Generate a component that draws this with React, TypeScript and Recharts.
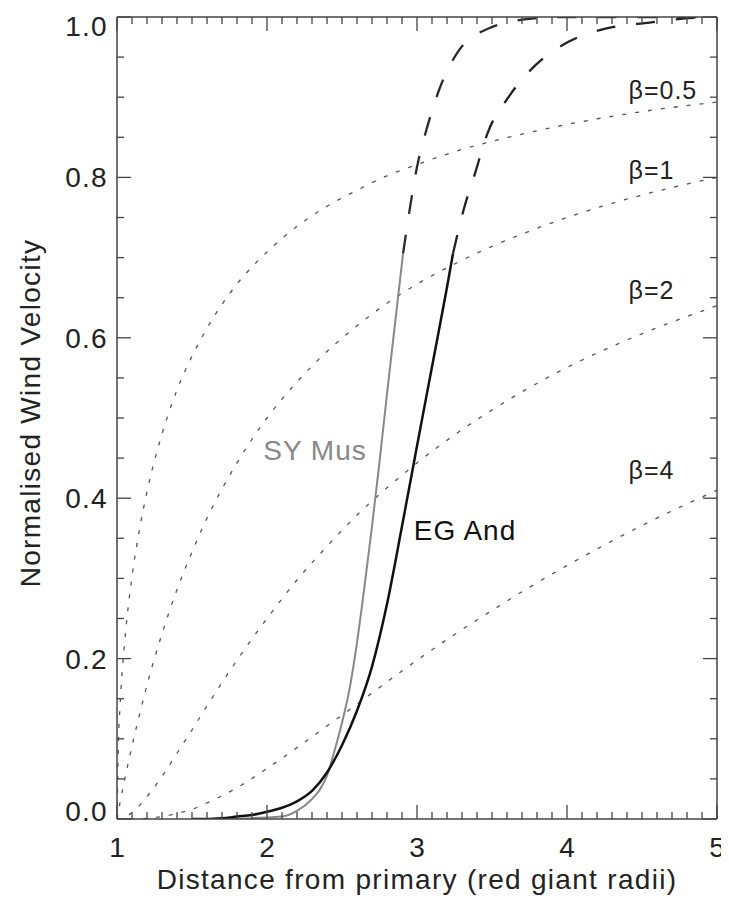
import React from "react";
import { LineChart, Line, XAxis, YAxis, ReferenceDot } from "recharts";

// beta-law curves on a common radius grid
const rGrid = [1.0, 1.01, 1.02, 1.05, 1.1, 1.15, 1.2, 1.3, 1.4, 1.5, 1.6, 1.8, 2.0, 2.2, 2.4, 2.6, 2.8, 3.0, 3.25, 3.5, 3.75, 4.0, 4.5, 5.0];
const beta05 = [0, 0.099, 0.14, 0.218, 0.302, 0.361, 0.408, 0.48, 0.535, 0.577, 0.612, 0.667, 0.707, 0.739, 0.764, 0.784, 0.802, 0.816, 0.832, 0.845, 0.856, 0.866, 0.882, 0.894];
const beta1 = [0, 0.01, 0.02, 0.048, 0.091, 0.13, 0.167, 0.231, 0.286, 0.333, 0.375, 0.444, 0.5, 0.545, 0.583, 0.615, 0.643, 0.667, 0.692, 0.714, 0.733, 0.75, 0.778, 0.8];
const beta2 = [0, 0, 0, 0.002, 0.008, 0.017, 0.028, 0.053, 0.082, 0.111, 0.141, 0.198, 0.25, 0.298, 0.34, 0.379, 0.413, 0.444, 0.479, 0.51, 0.538, 0.563, 0.605, 0.64];
const beta4 = [0, 0, 0, 0, 0, 0, 0.001, 0.003, 0.007, 0.012, 0.02, 0.039, 0.063, 0.089, 0.116, 0.143, 0.171, 0.198, 0.23, 0.26, 0.289, 0.316, 0.366, 0.41];

// SY Mus: measured part (solid) and extrapolation (dashed)
const syMusR = [1.6, 1.8, 1.9, 2.0, 2.1, 2.2, 2.3, 2.35, 2.4, 2.45, 2.5, 2.55, 2.6, 2.65, 2.7, 2.75, 2.8, 2.85, 2.907];
const syMusV = [0, 0, 0.001, 0.002, 0.003, 0.01, 0.025, 0.036, 0.054, 0.085, 0.12, 0.162, 0.22, 0.29, 0.365, 0.445, 0.53, 0.612, 0.705];
const syMusExtR = [2.907, 2.953, 3.0, 3.067, 3.147, 3.267, 3.48, 3.767, 4.0, 5.0];
const syMusExtV = [0.705, 0.762, 0.813, 0.862, 0.909, 0.955, 0.986, 0.998, 1.0, 1.0];

// EG And
const egAndR = [1.5, 1.6, 1.7, 1.8, 1.9, 2.0, 2.1, 2.2, 2.3, 2.4, 2.5, 2.6, 2.7, 2.8, 2.9, 3.0, 3.1, 3.2, 3.24];
const egAndV = [0, 0, 0.001, 0.003, 0.005, 0.009, 0.014, 0.022, 0.035, 0.058, 0.092, 0.135, 0.19, 0.268, 0.365, 0.465, 0.564, 0.663, 0.705];
const egAndExtR = [3.24, 3.31, 3.39, 3.47, 3.61, 3.79, 4.01, 4.27, 4.55, 4.84, 5.0];
const egAndExtV = [0.705, 0.759, 0.807, 0.855, 0.9, 0.94, 0.969, 0.986, 0.993, 0.999, 1.0];

const xMajor = [1, 2, 3, 4, 5];
const yMajor = [0, 0.2, 0.4, 0.6, 0.8, 1.0];
const betaLabels = ["β=0.5", "β=1", "β=2", "β=4"];

const FONT = "'Liberation Sans', Arial, Helvetica, sans-serif";
const AXIS = "#444";

// the chart fills the window exactly; drop the bottom body margin so no scrollbar appears
if (typeof document !== "undefined") {
  document.body.style.marginBottom = "0";
  document.body.style.overflow = "hidden";
}

const zip = (rs: number[], vs: number[]) => rs.map((r, i) => ({ r, v: vs[i] }));

// minor ticks between majors
const xTicks: number[] = [];
for (let i = 0; i <= 40; i++) xTicks.push(+(1 + i * 0.1).toFixed(2));
const yTicks: number[] = [];
for (let i = 0; i <= 20; i++) yTicks.push(+(i * 0.05).toFixed(2));

const isMajor = (v: number, list: number[]) => list.some((m) => Math.abs(m - v) < 1e-6);

function BottomTick(props: any) {
  const { x, y, payload } = props;
  const major = isMajor(payload.value, xMajor);
  return (
    <g>
      <line x1={x} x2={x} y1={y} y2={y - (major ? 14 : 7)} stroke={AXIS} strokeWidth={1.3} />
      {major && (
        <text x={x} y={y + 38} textAnchor="middle" fontSize={28} fontFamily={FONT} fill="#222">
          {payload.value}
        </text>
      )}
    </g>
  );
}

function TopTick(props: any) {
  const { x, y, payload } = props;
  const major = isMajor(payload.value, xMajor);
  return <line x1={x} x2={x} y1={y} y2={y + (major ? 14 : 7)} stroke={AXIS} strokeWidth={1.3} />;
}

function LeftTick(props: any) {
  const { x, y, payload } = props;
  const v = payload.value;
  const major = isMajor(v, yMajor);
  // end labels sit inside the axis range
  const shift = v >= 1 ? 9 : v <= 0 ? -8 : 0;
  return (
    <g>
      <line x1={x} x2={x + (major ? 14 : 7)} y1={y} y2={y} stroke={AXIS} strokeWidth={1.3} />
      {major && (
        <text x={x - 9} y={y + shift + 10} textAnchor="end" fontSize={28} fontFamily={FONT} fill="#222" letterSpacing={1.3}>
          {v.toFixed(1)}
        </text>
      )}
    </g>
  );
}

function RightTick(props: any) {
  const { x, y, payload } = props;
  const major = isMajor(payload.value, yMajor);
  return <line x1={x} x2={x - (major ? 14 : 7)} y1={y} y2={y} stroke={AXIS} strokeWidth={1.3} />;
}

function XTitle(props: any) {
  const vb = props.viewBox;
  return (
    <text x={vb.x + vb.width / 2} y={vb.y + 70} textAnchor="middle" fontSize={28} fontFamily={FONT} fill="#222" letterSpacing={1.3}>
      Distance from primary (red giant radii)
    </text>
  );
}

function YTitle(props: any) {
  const vb = props.viewBox;
  const x = vb.x + 32;
  const y = vb.y + vb.height / 2 - 5;
  return (
    <text x={x} y={y} transform={`rotate(-90, ${x}, ${y})`} textAnchor="middle" fontSize={28} fontFamily={FONT} fill="#222" letterSpacing={1.3}>
      Normalised Wind Velocity
    </text>
  );
}

function Annot(props: any) {
  const { viewBox, text, color, size, anchor } = props;
  const cx = viewBox.x + viewBox.width / 2;
  const cy = viewBox.y + viewBox.height / 2;
  return (
    <text x={cx} y={cy + size * 0.36} textAnchor={anchor} fontSize={size} fontFamily={FONT} fill={color} letterSpacing={1}>
      {text}
    </text>
  );
}

const betaSeries = [beta05, beta1, beta2, beta4];
const betaLabelPos = [
  { r: 4.41, v: 0.909 },
  { r: 4.41, v: 0.809 },
  { r: 4.41, v: 0.66 },
  { r: 4.41, v: 0.435 },
];

export default function App() {
  return (
    <LineChart width={721} height={890} margin={{ top: 0, right: 0, bottom: 0, left: 0 }}>
      <XAxis
        xAxisId={0}
        dataKey="r"
        type="number"
        domain={[1, 5]}
        allowDataOverflow
        ticks={xTicks}
        interval={0}
        height={79}
        tickSize={0}
        tickMargin={0}
        tickLine={false}
        tick={<BottomTick />}
        axisLine={{ stroke: AXIS, strokeWidth: 1.5 }}
        label={<XTitle />}
      />
      <XAxis
        xAxisId="top"
        orientation="top"
        dataKey="r"
        type="number"
        domain={[1, 5]}
        allowDataOverflow
        ticks={xTicks}
        interval={0}
        height={9}
        tickSize={0}
        tickMargin={0}
        tickLine={false}
        tick={<TopTick />}
        axisLine={{ stroke: AXIS, strokeWidth: 1.5 }}
      />
      <YAxis
        yAxisId={0}
        type="number"
        domain={[0, 1]}
        allowDataOverflow
        ticks={yTicks}
        interval={0}
        width={109}
        tickSize={0}
        tickMargin={0}
        tickLine={false}
        tick={<LeftTick />}
        axisLine={{ stroke: AXIS, strokeWidth: 1.5 }}
        label={<YTitle />}
      />
      <YAxis
        yAxisId="right"
        orientation="right"
        type="number"
        domain={[0, 1]}
        allowDataOverflow
        ticks={yTicks}
        interval={0}
        width={12}
        tickSize={0}
        tickMargin={0}
        tickLine={false}
        tick={<RightTick />}
        axisLine={{ stroke: AXIS, strokeWidth: 1.5 }}
      />

      {betaSeries.map((vals, i) => (
        <Line
          key={`beta-${i}`}
          data={zip(rGrid, vals)}
          dataKey="v"
          type="monotone"
          stroke="#555"
          strokeWidth={1.3}
          strokeDasharray="4 9"
          dot={false}
          activeDot={false}
          isAnimationActive={false}
        />
      ))}

      <Line data={zip(syMusExtR, syMusExtV)} dataKey="v" type="monotone" stroke="#2a2a2a" strokeWidth={2.3} strokeDasharray="19 21" dot={false} activeDot={false} isAnimationActive={false} />
      <Line data={zip(egAndExtR, egAndExtV)} dataKey="v" type="monotone" stroke="#222" strokeWidth={2.3} strokeDasharray="19 21" dot={false} activeDot={false} isAnimationActive={false} />
      <Line data={zip(syMusR, syMusV)} dataKey="v" type="monotone" stroke="#888" strokeWidth={2} dot={false} activeDot={false} isAnimationActive={false} />
      <Line data={zip(egAndR, egAndV)} dataKey="v" type="monotone" stroke="#111" strokeWidth={2.5} dot={false} activeDot={false} isAnimationActive={false} />

      <ReferenceDot x={2.32} y={0.46} r={1} fill="none" stroke="none" label={<Annot text="SY Mus" color="#888" size={28} anchor="middle" />} />
      <ReferenceDot x={3.32} y={0.361} r={1} fill="none" stroke="none" label={<Annot text="EG And" color="#111" size={28} anchor="middle" />} />
      {betaLabels.map((t, i) => (
        <ReferenceDot
          key={t}
          x={betaLabelPos[i].r}
          y={betaLabelPos[i].v}
          r={1}
          fill="none"
          stroke="none"
          label={<Annot text={t} color="#222" size={25} anchor="start" />}
        />
      ))}
    </LineChart>
  );
}
